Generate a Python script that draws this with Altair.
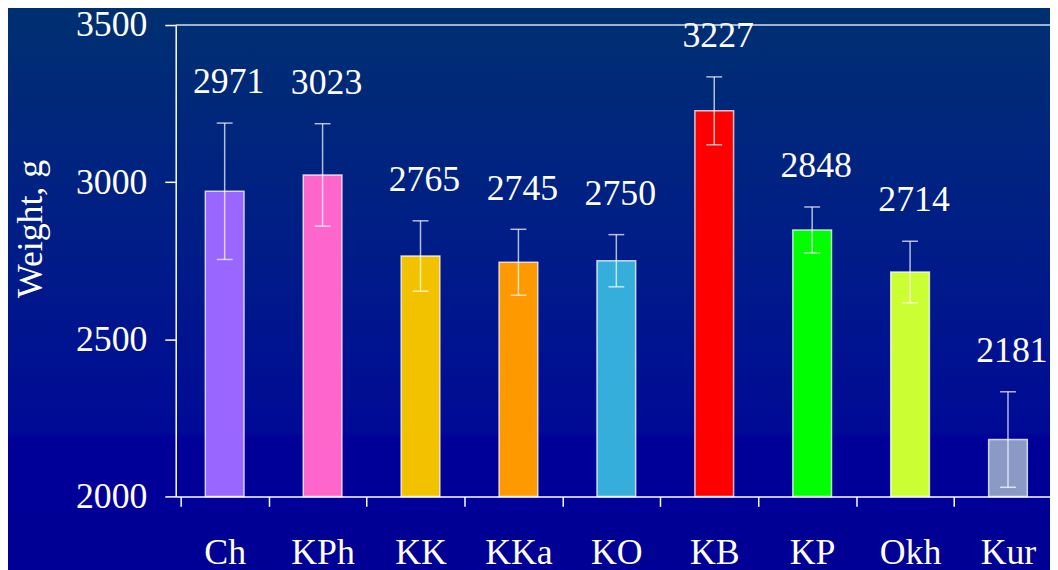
import altair as alt
import pandas as pd

groups = ["Ch", "KPh", "KK", "KKa", "KO", "KB", "KP", "Okh", "Kur"]
weights = [2971, 3023, 2765, 2745, 2750, 3227, 2848, 2714, 2181]
errors = [217, 163, 112, 105, 83, 108, 73, 98, 152]
bar_colors = ["#9966FF", "#FF66CC", "#F2C200", "#FF9900", "#36AEDB",
              "#FF0000", "#00FF00", "#CCFF33", "#8A9AC4"]
y_ticks = [2000, 2500, 3000, 3500]
y_title = "Weight, g"

df = pd.DataFrame({"group": groups, "weight": weights, "err": errors, "color": bar_colors})
df["lo"] = df["weight"] - df["err"]
df["hi"] = df["weight"] + df["err"]

FONT = "Liberation Serif"
FS = 36

x_axis = alt.Axis(title=None, labelAngle=0, labelFont=FONT, labelFontSize=FS,
                  labelColor="white", labelBaseline="alphabetic", labelPadding=58,
                  tickBand="extent", tickSize=10, tickColor="white", tickWidth=1.5,
                  domainColor="white", domainWidth=1.5, grid=False, labelOverlap=False,
                  zindex=2)
y_axis = alt.Axis(title=y_title, values=y_ticks, format="d", labelFont=FONT, labelFontSize=FS,
                  labelColor="white", labelPadding=18, tickSize=11, tickColor="white",
                  tickWidth=1.5, domainColor="white", domainWidth=1.5, grid=False,
                  titleFont=FONT, titleFontSize=FS, titleColor="white",
                  titleFontWeight="normal", titleAngle=270, titleX=-135, titleY=205,
                  titleAlign="center", titleBaseline="alphabetic", zindex=2)
x_enc = alt.X("group:N", sort=groups, scale=alt.Scale(range=[0, 888]), axis=x_axis)
y_scale = alt.Scale(domain=[2000, 3500], zero=False, nice=False)

def Y(field):
    return alt.Y(field, scale=y_scale, axis=y_axis)

bg = alt.Chart(alt.Data(values=[{"a": 1}])).mark_rect(
    color=alt.Gradient(gradient="linear", x1=0, x2=0, y1=0, y2=1,
                       stops=[alt.GradientStop(offset=0, color="#003070"),
                              alt.GradientStop(offset=0.45, color="#001C88"),
                              alt.GradientStop(offset=0.76, color="#000A96"),
                              alt.GradientStop(offset=0.77, color="#000099"),
                              alt.GradientStop(offset=0.9, color="#000099"),
                              alt.GradientStop(offset=0.91, color="#000094"),
                              alt.GradientStop(offset=1, color="#000094")])
).encode(x=alt.value(-170), x2=alt.value(900), y=alt.value(-23), y2=alt.value(547))

grid = alt.Chart(pd.DataFrame({"v": [3500]})).mark_rule(
    color="#D8DDF0", strokeWidth=1.5
).encode(y=Y("v:Q"), x=alt.value(0), x2=alt.value(888))

base = alt.Chart(df)
bars = base.mark_bar(size=39, stroke="white", strokeOpacity=0.75, strokeWidth=1.5).encode(
    x=x_enc, y=Y("weight:Q"), y2=alt.datum(2000), color=alt.Color("color:N", scale=None))
rules = base.mark_rule(color="white", opacity=0.7, strokeWidth=1.5).encode(
    x=x_enc, y=Y("lo:Q"), y2="hi:Q")
cap_lo = base.mark_tick(color="white", opacity=0.7, size=16, thickness=1.5,
                        orient="horizontal").encode(x=x_enc, y=Y("lo:Q"))
cap_hi = base.mark_tick(color="white", opacity=0.7, size=16, thickness=1.5,
                        orient="horizontal").encode(x=x_enc, y=Y("hi:Q"))
labels = base.mark_text(font=FONT, fontSize=FS, color="white", baseline="alphabetic",
                        dy=-30, dx=4).encode(x=x_enc, y=Y("hi:Q"), text="weight:Q")

chart = alt.layer(bg, grid, bars, rules, cap_lo, cap_hi, labels).properties(
    width=880, height=475,
    padding={"left": 169, "top": 15, "right": 1, "bottom": 72},
    autosize=alt.AutoSizeParams(type="none"),
    background="#000099",
).configure_view(stroke=None)

chart.save("out.html", embed_options={"renderer": "svg", "actions": False})
